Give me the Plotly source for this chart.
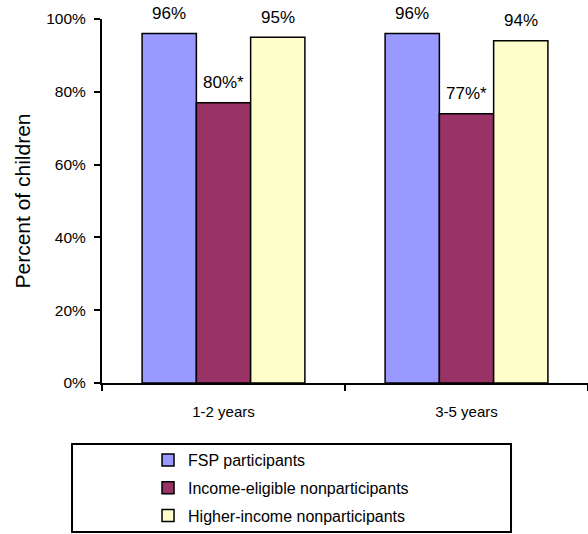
import plotly.graph_objects as go

categories = ["1-2 years", "3-5 years"]
series_names = ["FSP participants", "Income-eligible nonparticipants", "Higher-income nonparticipants"]
fsp_values = [96, 96]
income_eligible_values = [77, 74]
higher_income_values = [95, 94]
fsp_labels = ["96%", "96%"]
income_eligible_labels = ["80%*", "77%*"]
higher_income_labels = ["95%", "94%"]
colors = ["#9999FF", "#993366", "#FFFFCC"]
y_ticks = [0, 20, 40, 60, 80, 100]
y_tick_labels = ["0%", "20%", "40%", "60%", "80%", "100%"]

FONT = "Arial, Liberation Sans, sans-serif"

fig = go.Figure()
all_vals = [fsp_values, income_eligible_values, higher_income_values]
all_labels = [fsp_labels, income_eligible_labels, higher_income_labels]
for i, (name, vals, col) in enumerate(zip(series_names, all_vals, colors)):
    fig.add_trace(go.Bar(
        x=categories, y=vals, name=name, legendgroup=str(i),
        marker=dict(color=col, line=dict(color="black", width=1.5)),
        hoverinfo="skip",
    ))

W, H = 588, 534
ML, MR, MT, MB = 102, 0, 19, 151

# data labels above bars
n = len(series_names)
bargap = 0.33
plot_w = W - ML - MR
cat_w = plot_w / len(categories)
bar_w = cat_w * (1 - bargap) / n
for i, (vals, labs) in enumerate(zip(all_vals, all_labels)):
    for c, v, t in zip(categories, vals, labs):
        fig.add_annotation(
            x=c, y=v, text=t, showarrow=False, xref="x", yref="y",
            xshift=(i - (n - 1) / 2) * bar_w, yshift=20, yanchor="middle",
            font=dict(family=FONT, size=17, color="black"),
        )

# legend box
fig.add_shape(type="rect", xref="paper", yref="paper",
              x0=-0.0617, x1=0.8416, y0=-0.4093, y1=-0.1676,
              line=dict(color="black", width=2), fillcolor="rgba(0,0,0,0)")

fig.update_layout(
    width=W, height=H,
    margin=dict(l=ML, r=MR, t=MT, b=MB, autoexpand=False),
    paper_bgcolor="white", plot_bgcolor="white",
    barmode="group", bargap=bargap, bargroupgap=0,
    font=dict(family=FONT, size=15, color="black"),
    showlegend=True,
    legend=dict(
        x=0.0947, y=-0.165, xanchor="left", yanchor="top",
        font=dict(family=FONT, size=16, color="black"),
        bgcolor="rgba(0,0,0,0)", borderwidth=0,
        traceorder="grouped", tracegroupgap=4,
    ),
    xaxis=dict(
        showline=True, linecolor="black", linewidth=2,
        ticks="outside", tickson="boundaries", ticklen=6, tickwidth=2, tickcolor="black",
        ticklabelstandoff=14, showgrid=False, zeroline=False,
        tickfont=dict(family=FONT, size=15, color="black"),
    ),
    yaxis=dict(
        range=[0, 100], tickvals=y_ticks, ticktext=y_tick_labels,
        showline=True, linecolor="black", linewidth=2,
        ticks="outside", ticklen=6, tickwidth=2, tickcolor="black",
        ticklabelstandoff=5, showgrid=False, zeroline=False,
        tickfont=dict(family=FONT, size=15.5, color="black"),
        title=dict(text="Percent of children", standoff=10,
                   font=dict(family=FONT, size=21, color="black")),
    ),
)

fig.write_html(
    "out.html",
    config={"displayModeBar": False},
    post_script="document.body.style.margin='0';document.body.style.padding='0';",
)
